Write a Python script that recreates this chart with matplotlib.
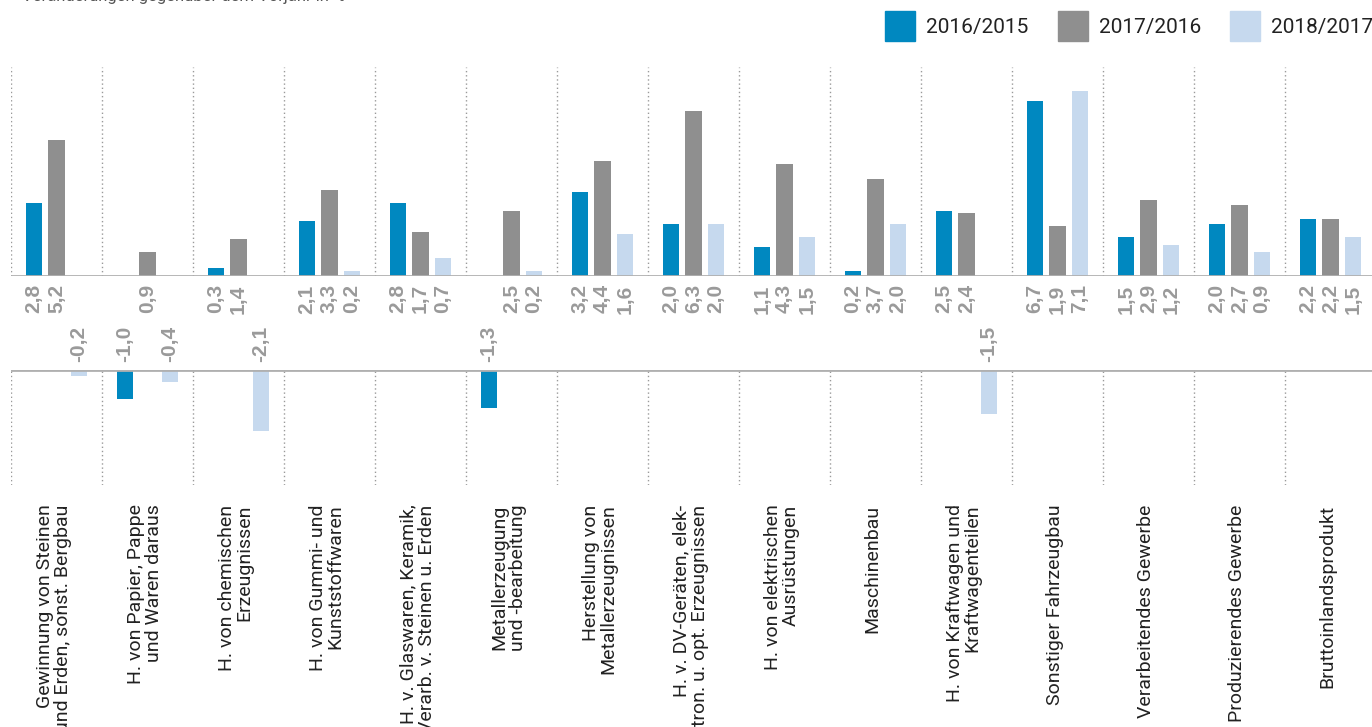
import numpy as np
import matplotlib
matplotlib.use('Agg')
import matplotlib.pyplot as plt
from matplotlib.patches import Rectangle

categories = [
    'Gewinnung von Steinen\nund Erden, sonst. Bergbau',
    'H. von Papier, Pappe\nund Waren daraus',
    'H. von chemischen\nErzeugnissen',
    'H. von Gummi- und\nKunststoffwaren',
    'H. v. Glaswaren, Keramik,\nVerarb. v. Steinen u. Erden',
    'Metallerzeugung\nund -bearbeitung',
    'Herstellung von\nMetallerzeugnissen',
    'H. v. DV-Geräten, elek-\ntron. u. opt. Erzeugnissen',
    'H. von elektrischen\nAusrüstungen',
    'Maschinenbau',
    'H. von Kraftwagen und\nKraftwagenteilen',
    'Sonstiger Fahrzeugbau',
    'Verarbeitendes Gewerbe',
    'Produzierendes Gewerbe',
    'Bruttoinlandsprodukt',
]
series_names = ['2016/2015', '2017/2016', '2018/2017']
v_2016 = [2.8, -1.0, 0.3, 2.1, 2.8, -1.3, 3.2, 2.0, 1.1, 0.2, 2.5, 6.7, 1.5, 2.0, 2.2]
v_2017 = [5.2, 0.9, 1.4, 3.3, 1.7, 2.5, 4.4, 6.3, 4.3, 3.7, 2.4, 1.9, 2.9, 2.7, 2.2]
v_2018 = [-0.2, -0.4, -2.1, 0.2, 0.7, 0.2, 1.6, 2.0, 1.5, 2.0, -1.5, 7.1, 1.2, 0.9, 1.5]
series = [v_2016, v_2017, v_2018]
colors = ['#0088c0', '#8f8f8f', '#c6d9ee']

W, H = 1372, 727
fig = plt.figure(figsize=(W / 100, H / 100), dpi=100)

def px_axes(x0, y0, x1, y1):
    # pixel box (top-left origin) -> figure axes
    return fig.add_axes([x0 / W, 1 - y1 / H, (x1 - x0) / W, (y1 - y0) / H])

group_px = 91.0
x_left = 11
xmax = -0.5 + (W - x_left) / group_px

ax_top = px_axes(x_left, 67, W, 276)
ax_bot = px_axes(x_left, 370, W, 485)
ax_top.set_ylim(0, 8)
ax_bot.set_ylim(-3.96, 0)

x = np.arange(len(categories))
offsets = [-0.247, 0.0, 0.247]
bw = 0.176
label_font = dict(family=['Liberation Sans', 'DejaVu Sans'], fontweight='bold',
                  fontsize=15, color='#9a9a9a', rotation=90)

for ax in (ax_top, ax_bot):
    ax.set_xlim(-0.5, xmax)
    for s in ax.spines.values():
        s.set_visible(False)
    ax.set_xticks([])
    ax.set_yticks([])
    for b in np.arange(-0.5, len(categories) + 0.5):
        ax.axvline(b, color='#9a9a9a', lw=1, linestyle=(0, (1, 2)), zorder=0)
    ax.axhline(0, color='#b0b0b0', lw=2, zorder=3)

for vals, off, col in zip(series, offsets, colors):
    for xi, v in zip(x, vals):
        txt = f'{v:.1f}'.replace('.', ',')
        if v >= 0:
            ax_top.bar(xi + off, v, bw, color=col, zorder=2)
            ax_top.annotate(txt, (xi + off, 0), xytext=(0, -6), textcoords='offset points',
                            ha='center', va='top', annotation_clip=False, **label_font)
        else:
            ax_bot.bar(xi + off, v, bw, color=col, zorder=2)
            ax_bot.annotate(txt, (xi + off, 0), xytext=(0, 6), textcoords='offset points',
                            ha='center', va='bottom', annotation_clip=False, **label_font)

for xi, cat in zip(x, categories):
    ax_bot.annotate(cat, (xi, -3.96), xytext=(-2, -14), textcoords='offset points',
                    ha='center', va='top', rotation=90, multialignment='right',
                    fontsize=14, color='#222222', linespacing=1.0,
                    family=['Roboto', 'DejaVu Sans'],
                    annotation_clip=False)

# legend
for i, (name, col) in enumerate(zip(series_names, colors)):
    lx = [885, 1058, 1230][i]
    fig.add_artist(Rectangle((lx / W, 1 - 41 / H), 30 / W, 30 / H,
                             transform=fig.transFigure, color=col))
    fig.text((lx + 41) / W, 1 - 28 / H, name, ha='left', va='center', fontsize=15,
             color='#222222', family=['Roboto', 'DejaVu Sans'])

# subtitle, cut off at the top edge
fig.text(22 / W, 1 - 1.5 / H, 'Veränderungen gegenüber dem Vorjahr in %', ha='left',
         va='baseline', fontsize=12, color='#555555', family=['Roboto', 'DejaVu Sans'])

fig.savefig('out.png', dpi=100)
